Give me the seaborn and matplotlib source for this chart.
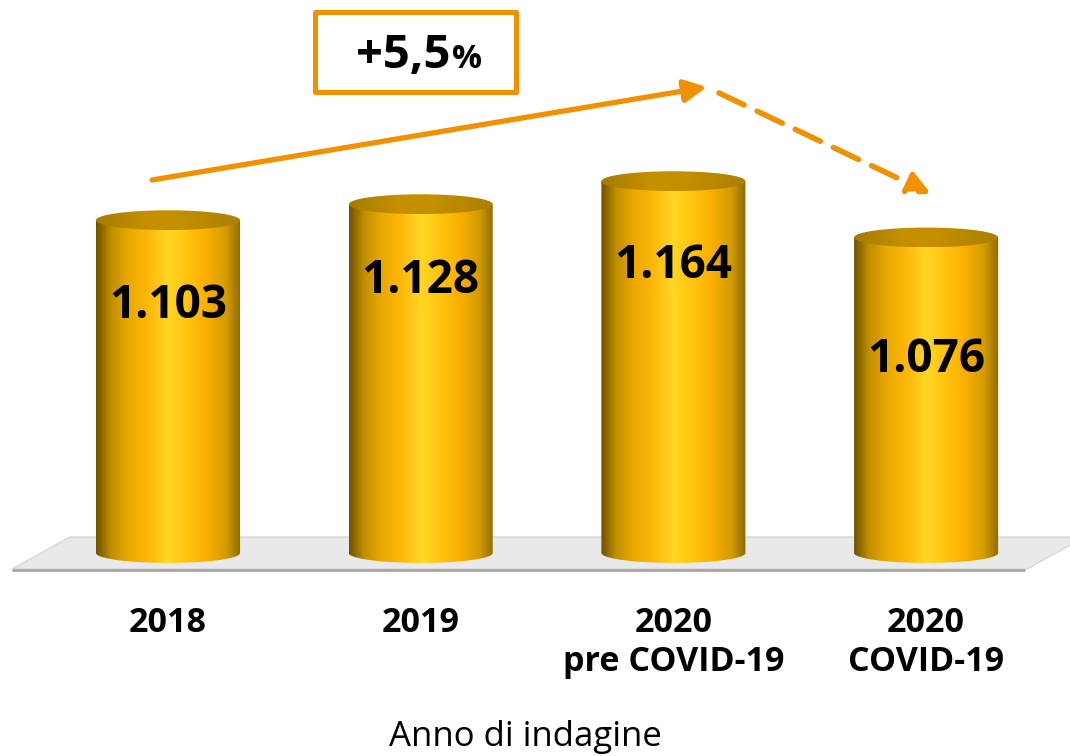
import numpy as np
import pandas as pd
import matplotlib
matplotlib.use("Agg")
import matplotlib.pyplot as plt
import seaborn as sns
from matplotlib.colors import LinearSegmentedColormap
from matplotlib.patches import Ellipse, PathPatch, Polygon, Rectangle, FancyArrowPatch
from matplotlib.path import Path

# dati del grafico
categorie = ["2018", "2019", "2020\npre COVID-19", "2020\nCOVID-19"]
valori = [1103, 1128, 1164, 1076]
variazione = "+5,5"
titolo_asse = "Anno di indagine"

sns.set_theme(style="white")
plt.rcParams["font.family"] = ["Open Sans", "DejaVu Sans"]
plt.rcParams["text.color"] = "black"
plt.rcParams["axes.labelcolor"] = "black"
plt.rcParams["xtick.color"] = "black"

ARANCIO = "#F29100"
W, H = 1070, 756
BASE = 583          # valore del piano d'appoggio dei cilindri
PX_PER_UNIT = 0.64  # pixel per unita' sull'asse y
ELL_H = 31          # altezza delle ellissi (unita' dati)
label_drop = [98, 89, 97, 135]  # distanza etichetta (baseline) dalla cima, in px

fig = plt.figure(figsize=(W / 100, H / 100), dpi=100)
ax = fig.add_axes([0, (H - 575) / H, 1, 575 / H])

df = pd.DataFrame({"anno": categorie, "valore": valori})
sns.barplot(data=df, x="anno", y="valore", width=0.57, color="#FDB515", ax=ax)

xlim = (-168 / 252.7, (W - 168) / 252.7)
ylim = (BASE - 22 / PX_PER_UNIT, BASE + 553 / PX_PER_UNIT)
ax.set_xlim(*xlim)
ax.set_ylim(*ylim)
ax.patch.set_visible(False)
sns.despine(ax=ax, left=True, bottom=True)


def px(x, y):
    # pixel dell'immagine -> coordinate dati
    return ax.transData.inverted().transform((x, H - y))


# piano grigio
floor = [px(12, 569), px(70, 537), px(1085, 537), px(1027, 569)]
ax.add_patch(Polygon(floor, closed=True, fc="#E9E9E9", ec="#D8D8D8", lw=1, zorder=0.5))
a, b = px(12, 569.5), px(1025, 569.5)
ax.plot([a[0], b[0]], [a[1], b[1]], color="#A5A5A5", lw=2, zorder=0.6, solid_capstyle="butt")

corpo = LinearSegmentedColormap.from_list("corpo", [
    (0, "#6E5200"), (0.1, "#BE8E00"), (0.22, "#E9A800"), (0.35, "#FDB60A"),
    (0.5, "#FFD724"), (0.63, "#FFC410"), (0.76, "#FBB000"), (0.9, "#D39C00"),
    (1, "#8E6A00")])
coperchio = LinearSegmentedColormap.from_list("coperchio", [
    (0, "#A57B00"), (0.35, "#C59100"), (0.6, "#C38E00"), (1, "#A98000")])
grad = np.linspace(0, 1, 256)[None, :]

bars = list(ax.patches)
for p, v, drop in zip(bars, valori, label_drop):
    x0, w, top = p.get_x(), p.get_width(), p.get_height()
    xc = x0 + w / 2
    p.set_visible(False)

    th = np.linspace(np.pi, 2 * np.pi, 80)
    verts = [(x0, top)] + list(zip(xc + w / 2 * np.cos(th), BASE + ELL_H / 2 * np.sin(th))) + [(x0 + w, top), (x0, top)]
    body = PathPatch(Path(verts), fc="none", ec="none")
    ax.add_patch(body)
    im = ax.imshow(grad, cmap=corpo, extent=(x0, x0 + w, BASE - ELL_H / 2, top),
                   aspect="auto", interpolation="bicubic", zorder=2)
    im.set_clip_path(body)

    lid = Ellipse((xc, top), w, ELL_H, fc="none", ec="none")
    ax.add_patch(lid)
    im2 = ax.imshow(grad, cmap=coperchio, extent=(x0, x0 + w, top - ELL_H / 2, top + ELL_H / 2),
                    aspect="auto", interpolation="bicubic", zorder=3)
    im2.set_clip_path(lid)

    ax.text(xc, top - drop / PX_PER_UNIT, f"{v:,}".replace(",", "."), ha="center", va="baseline",
            fontsize=33, fontweight="bold", color="black", zorder=5)

ax.set_xlim(*xlim)
ax.set_ylim(*ylim)

# assi
ax.set_yticks([])
ax.set_ylabel("")
ax.tick_params(axis="x", length=0, pad=22, labelsize=24.5, labelcolor="black")
for t in ax.get_xticklabels():
    t.set_fontweight("bold")
ax.set_xlabel(titolo_asse, fontsize=25, color="black")
ax.xaxis.set_label_coords(525 / W, -(720 - 575) / 575)

# riquadro variazione
(bx0, by0), (bx1, by1) = px(315, 92), px(516, 12)
ax.add_patch(Rectangle((bx0, by0), bx1 - bx0, by1 - by0, fill=False, ec=ARANCIO, lw=3.6,
                       joinstyle="round", clip_on=False, zorder=6))
tx, ty = px(450, 68)
ax.text(tx, ty, variazione, ha="right", va="baseline", fontsize=34, fontweight="bold", zorder=6)
tx, ty = px(452, 68)
ax.text(tx, ty, "%", ha="left", va="baseline", fontsize=24, fontweight="bold", zorder=6)

# frecce
stile = "-|>,head_length=0.9,head_width=0.45"
ax.add_patch(FancyArrowPatch(px(152, 180), px(707, 87), arrowstyle=stile, mutation_scale=15,
                             color=ARANCIO, lw=3.8, shrinkA=0, shrinkB=0, clip_on=False, zorder=6))
ax.add_patch(FancyArrowPatch(px(719, 93), px(931, 194), arrowstyle=stile, mutation_scale=15,
                             color=ARANCIO, lw=4.0, linestyle=(0, (5, 2.6)),
                             shrinkA=0, shrinkB=0, clip_on=False, zorder=6))

fig.savefig("out.png", dpi=100)
